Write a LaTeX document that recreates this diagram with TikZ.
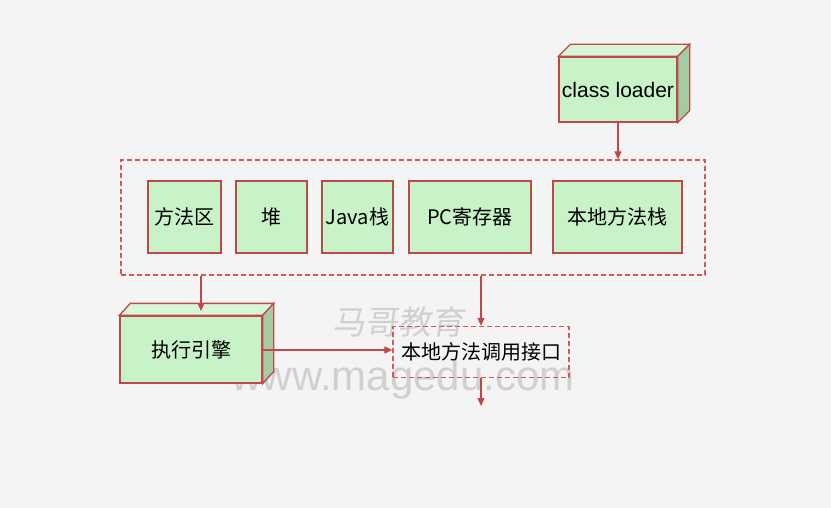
\documentclass[tikz,border=0pt]{standalone}
\usepackage{fontspec}
\setmainfont{Liberation Sans}
\newfontfamily\cjk{Noto Sans CJK SC}
\usetikzlibrary{arrows.meta}
\definecolor{bg}{HTML}{F4F4F4}
\definecolor{boxfill}{HTML}{C8F2C8}
\definecolor{boxtop}{HTML}{D8F6D8}
\definecolor{boxside}{HTML}{A4CCA4}
\definecolor{edge}{HTML}{C04848}
\definecolor{dash}{HTML}{D45858}
\definecolor{wm}{HTML}{D0D0D0}
\tikzset{
  greenbox/.style={draw=edge, line width=1.3pt, fill=boxfill, inner sep=0pt, font=\fontsize{20}{24}\selectfont\cjk},
  dashbox/.style={draw=dash, line width=1.3pt, dash pattern=on 5pt off 3pt, inner sep=0pt},
  conn/.style={draw=edge, line width=1.2pt, -{Triangle[length=8pt,width=7pt]}},
  topface/.style={draw=edge, line width=1.3pt, fill=boxtop},
  sideface/.style={draw=edge, line width=1.3pt, fill=boxside},
  watermark/.style={text=wm, inner sep=0pt}
}
\begin{document}
\begin{tikzpicture}[x=1pt,y=-1pt]
\fill[bg] (0,0) rectangle (831,508);
\useasboundingbox (0,0) rectangle (831,508);

% class loader 3D box
\node[greenbox, minimum width=118pt, minimum height=65pt, font=\fontsize{21}{24}\selectfont] (cl) at (618,89.5) {class loader};
\draw[topface] (cl.north west) -- ([shift={(12pt,12pt)}]cl.north west) -- ([shift={(12pt,12pt)}]cl.north east) -- (cl.north east) -- cycle;
\draw[sideface] (cl.north east) -- ([shift={(12pt,12pt)}]cl.north east) -- ([shift={(12pt,12pt)}]cl.south east) -- (cl.south east) -- cycle;

% runtime data area container
\node[dashbox, minimum width=584pt, minimum height=115pt] (rt) at (413,217.5) {};
\node[greenbox, minimum width=73pt, minimum height=72pt] (ma) at (184.5,217) {方法区};
\node[greenbox, minimum width=71pt, minimum height=72pt] (heap) at (271.5,217) {堆};
\node[greenbox, minimum width=71pt, minimum height=72pt] (js) at (357.5,217) {Java栈};
\node[greenbox, minimum width=122pt, minimum height=72pt] (pc) at (470,217) {PC寄存器};
\node[greenbox, minimum width=129pt, minimum height=72pt] (ns) at (617.5,217) {本地方法栈};

% watermark
\node[watermark, font=\fontsize{33}{36}\selectfont\cjk, xslant=0.15] (wm1) at (400,322) {马哥教育};
\node[watermark, font=\fontsize{42}{44}\selectfont] (wm2) at (403,380) {www.magedu.com};

% execution engine 3D box
\node[greenbox, minimum width=142pt, minimum height=67pt] (ee) at (191,349.5) {执行引擎};
\draw[topface] (ee.north west) -- ([shift={(11pt,12pt)}]ee.north west) -- ([shift={(11pt,12pt)}]ee.north east) -- (ee.north east) -- cycle;
\draw[sideface] (ee.north east) -- ([shift={(11pt,12pt)}]ee.north east) -- ([shift={(11pt,12pt)}]ee.south east) -- (ee.south east) -- cycle;
\coordinate (eetop) at (201,311);

% native interface
\node[dashbox, minimum width=176pt, minimum height=51pt, font=\fontsize{20}{24}\selectfont\cjk] (ni) at (481,352) {本地方法调用接口};
\coordinate (niout) at (481,406);

% connectors
\draw[conn] (cl.south) -- (cl.south |- rt.north);
\draw[conn] (rt.south -| eetop) -- (eetop);
\draw[conn] (rt.south -| ni.north) -- (ni.north);
\draw[conn] (ee.east |- 0,350) -- (ni.west |- 0,350);
\draw[conn] (ni.south) -- (niout);
\end{tikzpicture}
\end{document}
